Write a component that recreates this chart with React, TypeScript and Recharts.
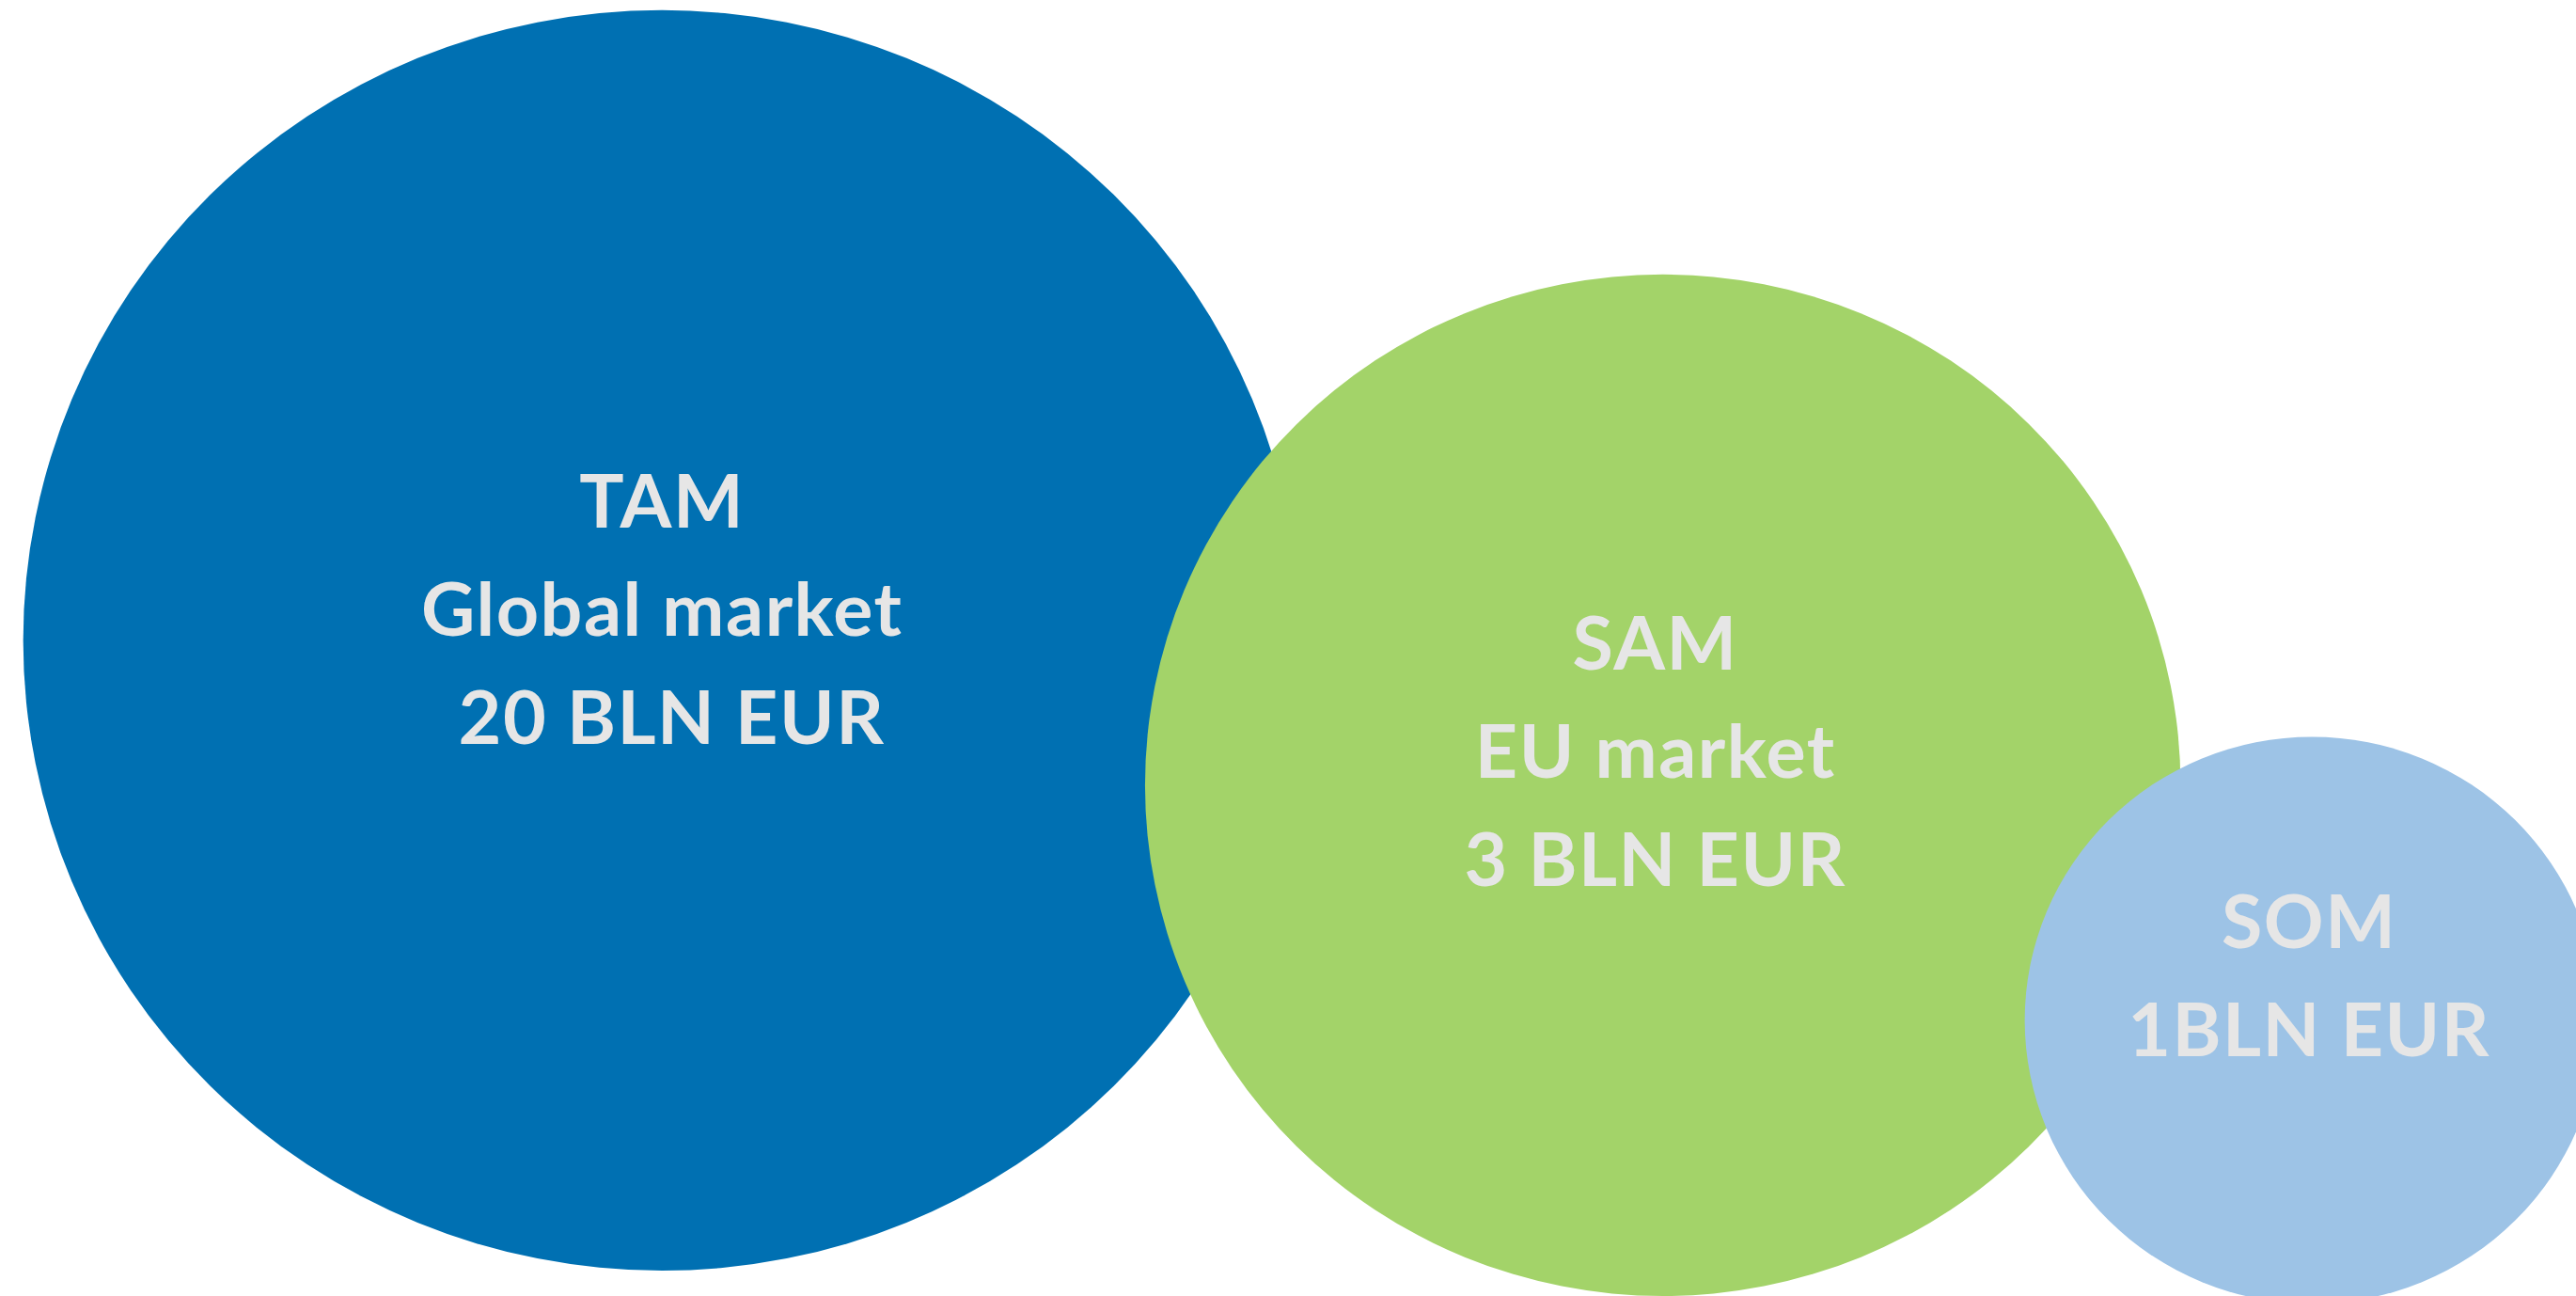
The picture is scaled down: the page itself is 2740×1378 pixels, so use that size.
import React from "react";
import { ScatterChart, Scatter, XAxis, YAxis, Cell } from "recharts";

// market bubbles
const markets = ["TAM", "SAM", "SOM"];
const descriptions = ["Global market", "EU market", ""];
const amounts = [" 20 BLN EUR", "3 BLN EUR", "1BLN EUR"];
const xValues = [51.4, 129.1, 179.5];
const yValues = [51.6, 40.2, 21.7];
const radii = [49.6, 40.2, 22.3];

const colors = ["#0070b2", "#a3d369", "#9dc3e6"];

const WIDTH = 2740;
const HEIGHT = 1378;
const X_MAX = 200;
const Y_MAX = 102;
const pxX = WIDTH / X_MAX;
const pxY = HEIGHT / Y_MAX;

// label block tweaks: font size, line height, offset of the block from the bubble centre
const labelStyle: Record<string, { fs: number; lh: number; dx: number; dy: number }> = {
    TAM: { fs: 79, lh: 115, dx: 0, dy: -33 },
    SAM: { fs: 79, lh: 115, dx: -8, dy: -36 },
    SOM: { fs: 79, lh: 115, dx: -3, dy: -48 },
};

const data = markets.map((name, i) => ({
    name,
    x: xValues[i],
    y: yValues[i],
    r: radii[i],
    lines: [name, descriptions[i], amounts[i]].filter((s) => s !== ""),
}));

const Bubble = (props: any) => {
    const { cx, cy, payload, fill } = props;
    return <ellipse cx={cx} cy={cy} rx={payload.r * pxX} ry={payload.r * pxY} fill={fill} />;
};

const BubbleLabel = (props: any) => {
    const { cx, cy, payload } = props;
    const st = labelStyle[payload.name];
    const n = payload.lines.length;
    const x = cx + st.dx;
    const first = cy + st.dy - ((n - 1) / 2) * st.lh + st.fs * 0.36;
    return (
        <text
            x={x}
            textAnchor="middle"
            fill="#e6e6e6"
            fontFamily="Lato"
            fontWeight={700}
            fontSize={st.fs}
            letterSpacing={1.5}
            style={{ whiteSpace: "pre" }}
        >
            {payload.lines.map((line: string, i: number) => (
                <tspan key={i} x={x} y={first + i * st.lh}>
                    {line}
                </tspan>
            ))}
        </text>
    );
};

export default function App() {
    return (
        <div style={{ position: "absolute", left: 0, top: 0, width: WIDTH, height: HEIGHT, overflow: "hidden", background: "#fff" }}>
            <ScatterChart width={WIDTH} height={HEIGHT} margin={{ top: 0, right: 0, bottom: 0, left: 0 }}>
                <XAxis type="number" dataKey="x" domain={[0, X_MAX]} hide />
                <YAxis type="number" dataKey="y" domain={[0, Y_MAX]} hide />
                <Scatter data={data} shape={<Bubble />} isAnimationActive={false}>
                    {data.map((d, i) => (
                        <Cell key={d.name} fill={colors[i]} />
                    ))}
                </Scatter>
                <Scatter data={data} shape={<BubbleLabel />} isAnimationActive={false} />
            </ScatterChart>
        </div>
    );
}
